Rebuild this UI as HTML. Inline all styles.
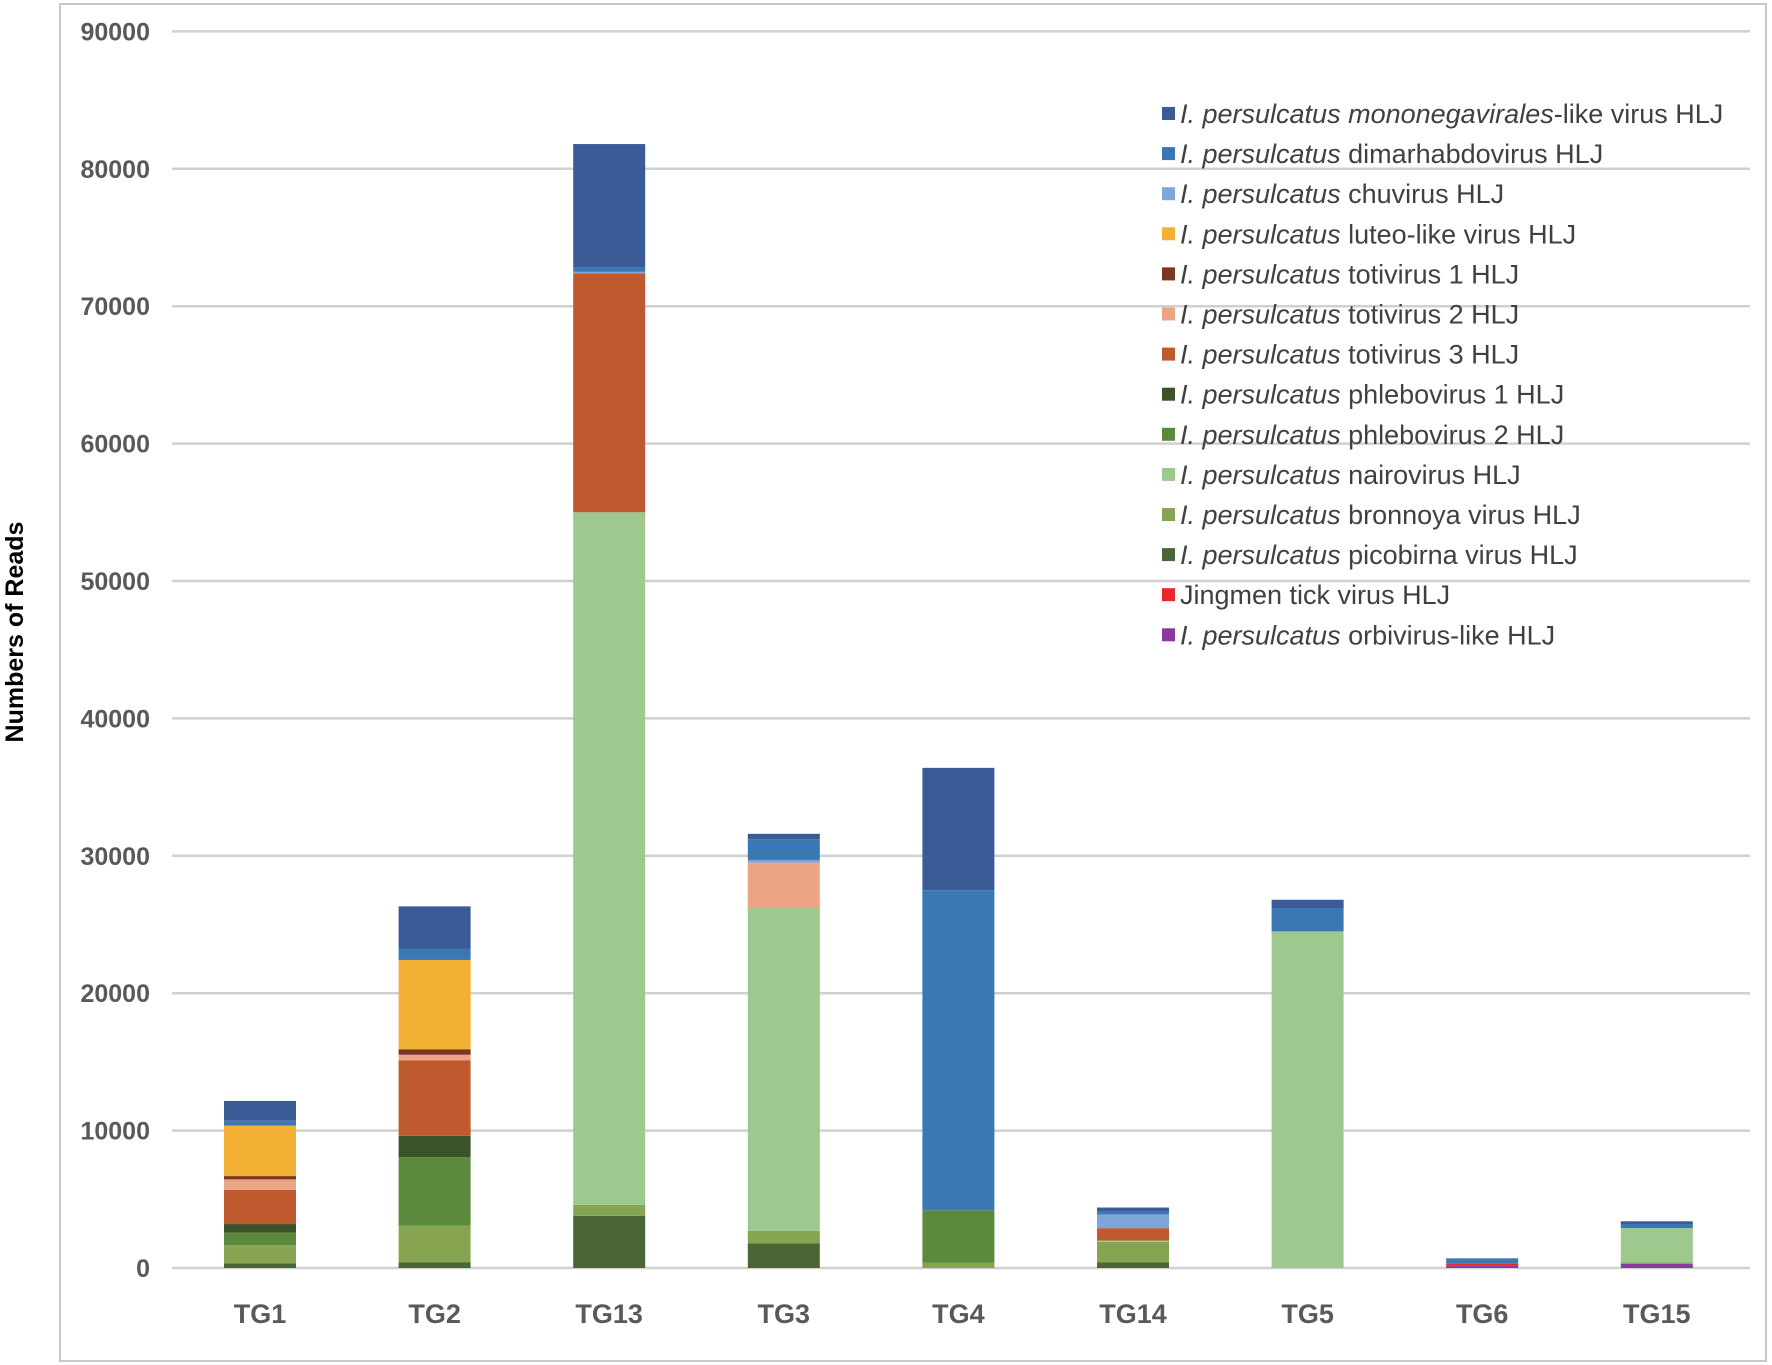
<!DOCTYPE html>
<html><head><meta charset="utf-8"><style>
html,body{margin:0;padding:0;background:#fff;}
svg{display:block;font-family:"Liberation Sans",Arial,sans-serif;}
</style></head><body>
<svg id="chart" width="1772" height="1365" viewBox="0 0 1772 1365">
<rect x="60" y="4" width="1706" height="1357" fill="#fff" stroke="#c8c8c8" stroke-width="2"/>
<text x="0" y="0" transform="translate(23,632) rotate(-90)" text-anchor="middle" font-size="25" font-weight="bold" fill="#000">Numbers of Reads</text>
<g id="grid"></g><g id="bars"></g><g id="legend"></g>
</svg>
<script>
const categories = ["TG1","TG2","TG13","TG3","TG4","TG14","TG5","TG6","TG15"];
const yTicks = [0,10000,20000,30000,40000,50000,60000,70000,80000,90000];
// stack order bottom -> top
const orbivirus   = [0,0,0,0,0,0,0,200,300];
const jingmen     = [0,0,0,0,0,0,0,100,0];
const picobirna   = [340,400,3800,1800,0,400,0,0,0];
const bronnoya    = [1310,2670,800,900,400,1500,0,0,100];
const nairovirus  = [0,0,50400,23500,0,100,24500,0,2500];
const phlebo2     = [920,4990,0,0,3800,0,0,0,0];
const phlebo1     = [630,1560,0,0,0,0,0,0,0];
const toti3       = [2480,5500,17400,0,0,900,0,0,0];
const toti2       = [770,400,0,3300,0,0,0,0,0];
const toti1       = [240,400,0,0,0,0,0,0,0];
const luteo       = [3670,6500,0,0,0,0,0,0,0];
const chuvirus    = [0,0,100,200,0,1000,0,0,0];
const dimarhabdo  = [360,800,300,1500,23300,200,1700,300,300];
const mononega    = [1440,3100,9000,400,8900,300,600,100,200];

const series = [
 {key:"orbivirus", v:orbivirus, c:"#8B3A9C"},
 {key:"jingmen", v:jingmen, c:"#E8282B"},
 {key:"picobirna", v:picobirna, c:"#4A6636"},
 {key:"bronnoya", v:bronnoya, c:"#87A551"},
 {key:"nairovirus", v:nairovirus, c:"#9DC98E"},
 {key:"phlebo2", v:phlebo2, c:"#5C8A3D"},
 {key:"phlebo1", v:phlebo1, c:"#3B5328"},
 {key:"toti3", v:toti3, c:"#BE5A2E"},
 {key:"toti2", v:toti2, c:"#EBA585"},
 {key:"toti1", v:toti1, c:"#7A3620"},
 {key:"luteo", v:luteo, c:"#F2B134"},
 {key:"chuvirus", v:chuvirus, c:"#7FA6D8"},
 {key:"dimarhabdo", v:dimarhabdo, c:"#3A78B4"},
 {key:"mononega", v:mononega, c:"#3A5B96"}
];
const legendItems = [
 ["mononega","#3A5B96","I. persulcatus","mononegavirales","-like virus HLJ"],
 ["dimarhabdo","#3A78B4","I. persulcatus",""," dimarhabdovirus HLJ"],
 ["chuvirus","#7FA6D8","I. persulcatus",""," chuvirus HLJ"],
 ["luteo","#F2B134","I. persulcatus",""," luteo-like virus HLJ"],
 ["toti1","#7A3620","I. persulcatus",""," totivirus 1 HLJ"],
 ["toti2","#EBA585","I. persulcatus",""," totivirus 2 HLJ"],
 ["toti3","#BE5A2E","I. persulcatus",""," totivirus 3 HLJ"],
 ["phlebo1","#3B5328","I. persulcatus",""," phlebovirus 1 HLJ"],
 ["phlebo2","#5C8A3D","I. persulcatus",""," phlebovirus 2 HLJ"],
 ["nairovirus","#9DC98E","I. persulcatus",""," nairovirus HLJ"],
 ["bronnoya","#87A551","I. persulcatus",""," bronnoya virus HLJ"],
 ["picobirna","#4A6636","I. persulcatus",""," picobirna virus HLJ"],
 ["jingmen","#E8282B","","","Jingmen tick virus HLJ"],
 ["orbivirus","#8B3A9C","I. persulcatus",""," orbivirus-like HLJ"]
];
const NS="http://www.w3.org/2000/svg";
const y0=1268, pxPer=137.4/10000;
function yScale(v){return y0 - v*pxPer;}
function xScale(i){return 260 + i*174.6;}
const barW=72;
function mk(tag,attrs,parent){const e=document.createElementNS(NS,tag);for(const k in attrs)e.setAttribute(k,attrs[k]);parent.appendChild(e);return e;}
const grid=document.getElementById('grid');
yTicks.forEach(t=>{
  const l=mk('line',{x1:172,x2:1750,y1:yScale(t),y2:yScale(t),stroke:'#d0d0d0','stroke-width':2.5},grid);
  
  
  const tx=mk('text',{x:150,y:yScale(t)+9,'text-anchor':'end','font-size':25,'font-weight':'bold',fill:'#595959'},grid);
  tx.textContent=t;
  
  
});
const bars=document.getElementById('bars');
categories.forEach((cat,i)=>{
  let acc=0;
  series.forEach(s=>{
    const v=s.v[i]; if(v<=0) return;
    const r=mk('rect',{x:xScale(i)-barW/2,y:yScale(acc+v),width:barW,height:v*pxPer,fill:s.c},bars);
    
    
    acc+=v;
  });
  const tx=mk('text',{x:xScale(i),y:1323,'text-anchor':'middle','font-size':27,'font-weight':'bold',fill:'#595959'},bars);
  tx.textContent=cat;
  
  
});
const lg=document.getElementById('legend');
legendItems.forEach((it,j)=>{
  const y=114+j*40.1;
  const g=mk('g',{},lg);
  
  
  mk('rect',{x:1162,y:y-7,width:13,height:13,fill:it[1]},g);
  const t=mk('text',{x:1180,y:y+9,'font-size':27,fill:'#404040'},g);
  if(it[2]){const a=mk('tspan',{'font-style':'italic'},t);a.textContent=it[2];}
  if(it[3]){const b=mk('tspan',{'font-style':'italic'},t);b.textContent=' '+it[3];}
  const c=mk('tspan',{},t);c.textContent=it[4];
});
</script>
</body></html>
